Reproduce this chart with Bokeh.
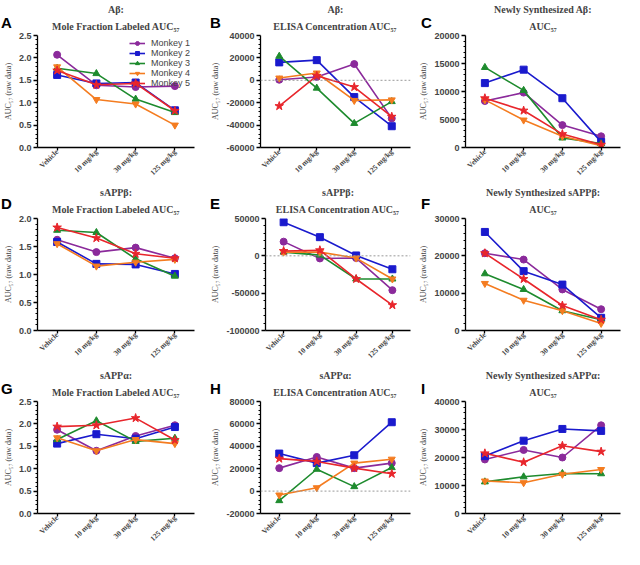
import math
from bokeh.plotting import figure
from bokeh.models import (FactorRange, Range1d, FixedTicker, Title, Span, Div,
                          Legend, LegendItem, PrintfTickFormatter)
from bokeh.layouts import column, row
from bokeh.embed import file_html
from bokeh.resources import INLINE

doses = ["Vehicle", "10 mg/kg", "30 mg/kg", "125 mg/kg"]
monkeys = ["Monkey 1", "Monkey 2", "Monkey 3", "Monkey 4", "Monkey 5"]
colors = ["#8B2A9B", "#1A1ACD", "#1E8B2E", "#F47C20", "#E8262C"]
markers = ["circle", "square", "triangle", "inverted_triangle", "star"]
panel_letters = ["A", "B", "C", "D", "E", "F", "G", "H", "I"]

# A: Abeta mole fraction labeled AUC57
abeta_mole_m1 = [2.07, 1.39, 1.35, 1.37]
abeta_mole_m2 = [1.62, 1.43, 1.45, 0.83]
abeta_mole_m3 = [1.77, 1.65, 1.08, 0.78]
abeta_mole_m4 = [1.80, 1.07, 0.97, 0.50]
abeta_mole_m5 = [1.72, 1.40, 1.43, 0.82]
# B: Abeta ELISA concentration AUC57
abeta_elisa_m1 = [500, 3000, 14500, -34000]
abeta_elisa_m2 = [16000, 18000, -15000, -41000]
abeta_elisa_m3 = [21500, -7000, -38500, -19000]
abeta_elisa_m4 = [2000, 6500, -18000, -17500]
abeta_elisa_m5 = [-23000, 4000, -6000, -32500]
# C: Newly synthesized Abeta
abeta_new_m1 = [8300, 9800, 4000, 2000]
abeta_new_m2 = [11500, 13900, 8800, 1000]
abeta_new_m3 = [14300, 10200, 1700, 700]
abeta_new_m4 = [8500, 4900, 2000, 300]
abeta_new_m5 = [8800, 6600, 2400, 500]
# D: sAPPbeta mole fraction
sappb_mole_m1 = [1.62, 1.40, 1.48, 1.29]
sappb_mole_m2 = [1.58, 1.19, 1.18, 1.01]
sappb_mole_m3 = [1.79, 1.75, 1.28, 0.97]
sappb_mole_m4 = [1.55, 1.15, 1.22, 1.27]
sappb_mole_m5 = [1.84, 1.65, 1.37, 1.29]
# E: sAPPbeta ELISA
sappb_elisa_m1 = [19000, -3500, -3000, -46000]
sappb_elisa_m2 = [45000, 25000, 500, -18000]
sappb_elisa_m3 = [5000, 1000, -31000, -31000]
sappb_elisa_m4 = [5000, 5000, -3000, -31000]
sappb_elisa_m5 = [6500, 7500, -31000, -66000]
# F: Newly synthesized sAPPbeta
sappb_new_m1 = [20700, 19000, 11000, 5700]
sappb_new_m2 = [26400, 15900, 12300, 3400]
sappb_new_m3 = [15200, 11000, 5300, 2900]
sappb_new_m4 = [12600, 8100, 5300, 1900]
sappb_new_m5 = [20700, 13800, 6700, 2900]
# G: sAPPalpha mole fraction
sappa_mole_m1 = [1.87, 1.40, 1.73, 1.97]
sappa_mole_m2 = [1.56, 1.77, 1.67, 1.93]
sappa_mole_m3 = [1.65, 2.07, 1.61, 1.68]
sappa_mole_m4 = [1.69, 1.40, 1.65, 1.56]
sappa_mole_m5 = [1.94, 1.97, 2.13, 1.64]
# H: sAPPalpha ELISA
sappa_elisa_m1 = [20500, 30500, 20500, 25000]
sappa_elisa_m2 = [33500, 25000, 32000, 61500]
sappa_elisa_m3 = [-8500, 19500, 4000, 21000]
sappa_elisa_m4 = [-3500, 3000, 25000, 28500]
sappa_elisa_m5 = [29000, 26500, 20500, 15500]
# I: Newly synthesized sAPPalpha
sappa_new_m1 = [19300, 22700, 20000, 31500]
sappa_new_m2 = [20500, 26000, 30200, 29500]
sappa_new_m3 = [11300, 13100, 14300, 14200]
sappa_new_m4 = [11600, 11000, 14000, 15700]
sappa_new_m5 = [21500, 18300, 24200, 22100]

SUB = "AUC\u2085\u2087"
ylabel = SUB + " (raw data)"

panels = [
    dict(t1="A\u03b2:", t2="Mole Fraction Labeled " + SUB,
         series=[abeta_mole_m1, abeta_mole_m2, abeta_mole_m3, abeta_mole_m4, abeta_mole_m5],
         ticks=[0.0, 0.5, 1.0, 1.5, 2.0, 2.5], fmt="%.1f", zero=False, legend=True),
    dict(t1="A\u03b2:", t2="ELISA Concentration " + SUB,
         series=[abeta_elisa_m1, abeta_elisa_m2, abeta_elisa_m3, abeta_elisa_m4, abeta_elisa_m5],
         ticks=[-60000, -40000, -20000, 0, 20000, 40000], fmt="%d", zero=True, legend=False),
    dict(t1="Newly Synthesized A\u03b2:", t2=SUB,
         series=[abeta_new_m1, abeta_new_m2, abeta_new_m3, abeta_new_m4, abeta_new_m5],
         ticks=[0, 5000, 10000, 15000, 20000], fmt="%d", zero=False, legend=False),
    dict(t1="sAPP\u03b2:", t2="Mole Fraction Labeled " + SUB,
         series=[sappb_mole_m1, sappb_mole_m2, sappb_mole_m3, sappb_mole_m4, sappb_mole_m5],
         ticks=[0.0, 0.5, 1.0, 1.5, 2.0], fmt="%.1f", zero=False, legend=False),
    dict(t1="sAPP\u03b2:", t2="ELISA Concentration " + SUB,
         series=[sappb_elisa_m1, sappb_elisa_m2, sappb_elisa_m3, sappb_elisa_m4, sappb_elisa_m5],
         ticks=[-100000, -50000, 0, 50000], fmt="%d", zero=True, legend=False),
    dict(t1="Newly Synthesized sAPP\u03b2:", t2=SUB,
         series=[sappb_new_m1, sappb_new_m2, sappb_new_m3, sappb_new_m4, sappb_new_m5],
         ticks=[0, 10000, 20000, 30000], fmt="%d", zero=False, legend=False),
    dict(t1="sAPP\u03b1:", t2="Mole Fraction Labeled " + SUB,
         series=[sappa_mole_m1, sappa_mole_m2, sappa_mole_m3, sappa_mole_m4, sappa_mole_m5],
         ticks=[0.0, 0.5, 1.0, 1.5, 2.0, 2.5], fmt="%.1f", zero=False, legend=False),
    dict(t1="sAPP\u03b1:", t2="ELISA Concentration " + SUB,
         series=[sappa_elisa_m1, sappa_elisa_m2, sappa_elisa_m3, sappa_elisa_m4, sappa_elisa_m5],
         ticks=[-20000, 0, 20000, 40000, 60000, 80000], fmt="%d", zero=True, legend=False),
    dict(t1="Newly Synthesized sAPP\u03b1:", t2=SUB,
         series=[sappa_new_m1, sappa_new_m2, sappa_new_m3, sappa_new_m4, sappa_new_m5],
         ticks=[0, 10000, 20000, 30000, 40000], fmt="%d", zero=False, legend=False),
]

PW, PH = 208, 183
FW, FH = 162, 110
col_left = [32, 40, 42]
TOP, BOTTOM = 35, 36


def make_panel(i, spec):
    c = i % 3
    ticks = spec["ticks"]
    step = ticks[1] - ticks[0]
    minors = []
    for k in range(len(ticks) - 1):
        for j in range(1, 5):
            minors.append(ticks[k] + step * j / 5)
    p = figure(width=PW, height=PH, x_range=FactorRange(*doses, range_padding=0),
               y_range=Range1d(ticks[0], ticks[-1]),
               output_backend="svg", toolbar_location=None,
               min_border_left=col_left[c], min_border_right=PW - col_left[c] - FW,
               min_border_top=TOP, min_border_bottom=BOTTOM)
    p.outline_line_color = None
    p.grid.visible = False
    p.background_fill_color = "white"
    p.border_fill_color = "white"

    if spec["zero"]:
        p.add_layout(Span(location=0, dimension="width", line_color="#999999",
                          line_width=1, line_dash="2 2"))

    items = []
    for k, vals in enumerate(spec["series"]):
        ln = p.line(doses, vals, line_color=colors[k], line_width=1.6)
        mk = p.scatter(doses, vals, marker=markers[k], size=7 if k != 4 else 9,
                       fill_color=colors[k], line_color=colors[k])
        items.append(LegendItem(label=monkeys[k], renderers=[ln, mk]))

    if spec["legend"]:
        lg = Legend(items=items, location=(92, 59), label_text_font="Liberation Sans",
                    label_text_font_size="9px", label_height=10, glyph_height=10,
                    glyph_width=16, spacing=0, padding=0, margin=0,
                    label_standoff=6, border_line_color=None, background_fill_alpha=0)
        p.add_layout(lg)

    xa = p.xaxis[0]
    xa.major_label_orientation = math.pi / 4
    xa.major_label_text_font = "Liberation Serif"
    xa.major_label_text_font_style = "bold"
    xa.major_label_text_font_size = "7.5px"
    xa.major_label_text_line_height = 1.0
    xa.major_label_standoff = 0
    xa.axis_line_width = 1.3
    xa.major_tick_line_width = 1.3
    xa.major_tick_out = 3
    xa.major_tick_in = 0

    ya = p.yaxis[0]
    ya.ticker = FixedTicker(ticks=ticks, minor_ticks=minors)
    ya.formatter = PrintfTickFormatter(format=spec["fmt"])
    ya.major_label_text_font = "Liberation Sans"
    ya.major_label_text_font_style = "bold"
    ya.major_label_text_font_size = "9px"
    ya.major_label_standoff = 2
    ya.axis_line_width = 1.3
    ya.major_tick_line_width = 1.3
    ya.major_tick_out = 4
    ya.major_tick_in = 0
    ya.minor_tick_out = 2
    ya.minor_tick_in = 0
    ya.axis_label = ylabel
    ya.axis_label_text_font = "Liberation Serif"
    ya.axis_label_text_font_style = "normal"
    ya.axis_label_text_font_size = "8px"
    ya.axis_label_standoff = 3

    t2 = Title(text=spec["t2"], align="center", text_font="Liberation Serif",
               text_font_size="10px", text_font_style="bold", text_line_height=1.0,
               standoff=8)
    t1 = Title(text=spec["t1"], align="center", text_font="Liberation Serif",
               text_font_size="10px", text_font_style="bold", text_line_height=1.0,
               standoff=0)
    p.add_layout(t2, "above")
    p.add_layout(t1, "above")
    return p


figs = [make_panel(i, s) for i, s in enumerate(panels)]

# panel letters as an overlay (column-relative pixel positions)
letter_left = [-4, 205, 416]
letter_top = [10, 191, 376]
spans = []
for i, L in enumerate(panel_letters):
    spans.append(
        '<span style="position:absolute;left:%dpx;top:%dpx;font-family:\'Liberation Sans\';'
        'font-weight:bold;font-size:15px;line-height:15px;color:#000;">%s</span>'
        % (letter_left[i % 3], letter_top[i // 3], L))
overlay = Div(text="".join(spans), width=10, height=10,
              styles={"position": "absolute", "left": "0px", "top": "0px",
                      "z-index": "10", "pointer-events": "none", "overflow": "visible"})

layout = column(row(*figs[0:3]), row(*figs[3:6]), row(*figs[6:9]), overlay)

with open("out.html", "w") as f:
    f.write(file_html(layout, INLINE))
